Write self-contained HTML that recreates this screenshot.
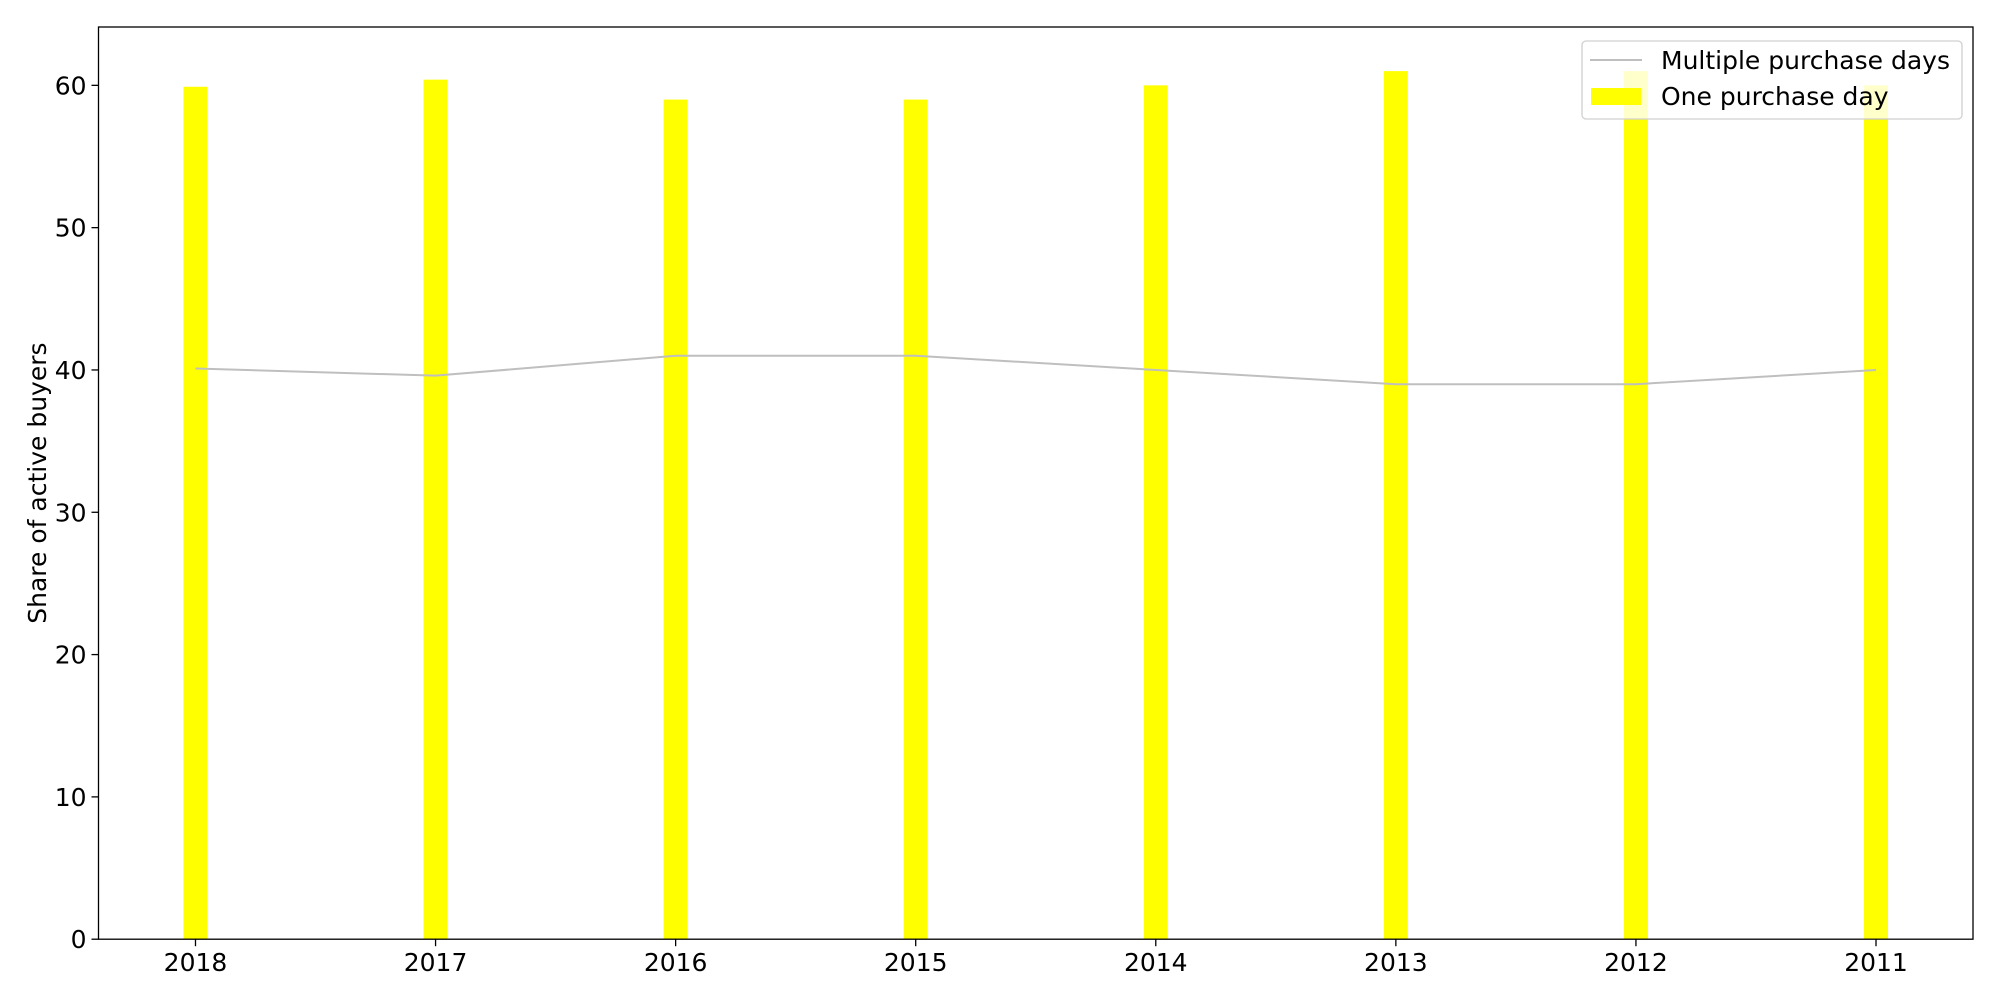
<!DOCTYPE html>
<html><head><meta charset="utf-8"><style>
html,body{margin:0;padding:0;background:#fff;}
svg text{font-family:"DejaVu Sans","Liberation Sans",sans-serif;fill:#000;}
</style></head><body>
<svg id="chart" width="2000" height="1000" xmlns="http://www.w3.org/2000/svg">
<g id="plot"></g>
</svg>
<script>
const categories = ["2018","2017","2016","2015","2014","2013","2012","2011"];
const onePurchase = [59.9, 60.4, 59.0, 59.0, 60.0, 61.0, 61.0, 60.0];
const multiplePurchase = [40.1, 39.6, 41.0, 41.0, 40.0, 39.0, 39.0, 40.0];
const yTicks = [0, 10, 20, 30, 40, 50, 60];

const L = 98.5, R = 1973, T = 27, B = 939.2;
const xMin = -0.404, xMax = categories.length - 1 + 0.404;
const yMin = 0, yMax = 64.1;
const xs = i => L + (i - xMin) / (xMax - xMin) * (R - L);
const ys = v => B - (v - yMin) / (yMax - yMin) * (B - T);
const NS = "http://www.w3.org/2000/svg";
const g = document.getElementById('plot');
function mk(tag, attrs, parent) {
  const e = document.createElementNS(NS, tag);
  for (const k in attrs) e.setAttribute(k, attrs[k]);
  (parent || g).appendChild(e);
  return e;
}
const FS = 25;
const unit = (R - L) / (xMax - xMin);
categories.forEach((c, i) => {
  const r = mk('rect', {x: xs(i) - 0.05 * unit, y: ys(onePurchase[i]), width: 0.1 * unit, height: ys(0) - ys(onePurchase[i]), fill: '#ffff00'});
  
  
});
const pts = multiplePurchase.map((v, i) => xs(i) + ',' + ys(v)).join(' ');
const pl = mk('polyline', {points: pts, fill: 'none', stroke: '#bfbfbf', 'stroke-width': 2});


const fr = mk('rect', {x: L, y: T, width: R - L, height: B - T, fill: 'none', stroke: '#000', 'stroke-width': 1.3});


categories.forEach((c, i) => {
  mk('line', {x1: xs(i), x2: xs(i), y1: B, y2: B + 7, stroke: '#000', 'stroke-width': 1.3});
  const t = mk('text', {x: xs(i), y: B + 32, 'text-anchor': 'middle', 'font-size': FS});
  t.textContent = c;
  
  
});
yTicks.forEach(v => {
  mk('line', {x1: L - 7, x2: L, y1: ys(v), y2: ys(v), stroke: '#000', 'stroke-width': 1.3});
  const t = mk('text', {x: L - 12, y: ys(v) + 9, 'text-anchor': 'end', 'font-size': FS});
  t.textContent = v;
  
  
});
const yl = mk('text', {x: 0, y: 0, transform: 'translate(46,' + ((T + B) / 2) + ') rotate(-90)', 'text-anchor': 'middle', 'font-size': FS});
yl.textContent = 'Share of active buyers';


const lg = mk('g', {});


mk('rect', {x: 1582, y: 41, width: 380, height: 78, rx: 4, fill: 'rgba(255,255,255,0.8)', stroke: '#d0d0d0', 'stroke-width': 1.3}, lg);
mk('line', {x1: 1590, x2: 1642, y1: 60, y2: 60, stroke: '#bfbfbf', 'stroke-width': 2}, lg);
mk('rect', {x: 1591, y: 88, width: 50, height: 17, fill: '#ffff00'}, lg);
const t1 = mk('text', {x: 1661, y: 69, 'font-size': FS}, lg);
t1.textContent = 'Multiple purchase days';


const t2 = mk('text', {x: 1661, y: 105, 'font-size': FS}, lg);
t2.textContent = 'One purchase day';


</script>
</body></html>
